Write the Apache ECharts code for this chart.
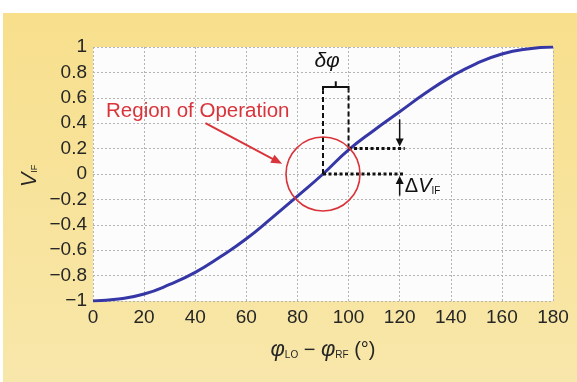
<!DOCTYPE html>
<html>
<head>
<meta charset="utf-8">
<script src="https://cdn.jsdelivr.net/npm/echarts@6/dist/echarts.min.js"></script>
<style>
html,body{margin:0;padding:0;background:#fff;}
#c{width:577px;height:382px;}
</style>
</head>
<body>
<div id="c"></div>
<script>
// ---- data ----
const phaseDeg = [0,10,20,30,40,50,60,70,80,90,100,110,120,130,140,150,160,170,180];
const vIF = [-1,-0.985,-0.945,-0.87,-0.775,-0.65,-0.51,-0.345,-0.175,0,0.19,0.345,0.49,0.635,0.765,0.87,0.945,0.985,1];
const xTicks = [0,20,40,60,80,100,120,140,160,180];
const yTicks = [-1,-0.8,-0.6,-0.4,-0.2,0,0.2,0.4,0.6,0.8,1];
// annotation anchors (data units)
const opPoint = [90, 0];          // centre of region of operation
const opPoint2 = [100, 0.2];      // second operating point
const bracketTop = 0.685;
const bracketEnd = 0.655;
const bracketTick = 0.73;
const dotEndX = 122;
const arrowX = 120;
const downArrowFrom = 0.43;
const upArrowFrom = -0.17;
const regionLabel = [41, 0.49];
const regionArrowFrom = [44, 0.40];
const regionArrowTo = [74, 0.08];
const deltaPhiLabel = [91.6, 0.89];
const deltaVLabel = [122, -0.1];

const FONT = '"Liberation Sans", Arial, Helvetica, sans-serif';
const fmt = v => { const r = Math.round(v*10)/10; if (r===0) return '0'; return (r<0?'\u2212':'') + Math.abs(r); };

const chart = echarts.init(document.getElementById('c'), null, {renderer:'canvas'});
chart.setOption({
  backgroundColor: '#ffffff',
  animation: false,
  grid: {left: 93, right: 24, top: 47, bottom: 81, show: true, backgroundColor: '#fcfcfd', borderWidth: 0},
  xAxis: {
    type: 'value', min: 0, max: 180, interval: 20,
    axisLine: {show: false}, axisTick: {show: false},
    axisLabel: {color: '#262626', fontFamily: FONT, fontSize: 19, margin: 7, formatter: fmt},
    splitLine: {show: true, lineStyle: {color: '#b4b4b4', type: [2,2], width: 1}}
  },
  yAxis: {
    type: 'value', min: -1, max: 1, interval: 0.2,
    axisLine: {show: false}, axisTick: {show: false},
    axisLabel: {color: '#262626', fontFamily: FONT, fontSize: 19, margin: 6, formatter: fmt},
    splitLine: {show: true, lineStyle: {color: '#b4b4b4', type: [2,2], width: 1}}
  },
  series: [{
    type: 'line', data: phaseDeg.map((p,i)=>[p, vIF[i]]), smooth: true, showSymbol: false,
    lineStyle: {color: '#3637a6', width: 3}, z: 5
  }]
});

function P(x,y){ return chart.convertToPixel({gridIndex:0}, [x,y]); }
function arrowHead(tip, from, len, half, color){
  const dx = tip[0]-from[0], dy = tip[1]-from[1];
  const L = Math.sqrt(dx*dx+dy*dy); const ux=dx/L, uy=dy/L;
  const bx = tip[0]-ux*len, by = tip[1]-uy*len;
  return {type:'polygon', z:20, shape:{points:[tip,[bx-uy*half, by+ux*half],[bx+uy*half, by-ux*half]]}, style:{fill:color}};
}

const g = [];
// outer yellow panel
g.push({type:'rect', z:-100, shape:{x:3, y:13, width:574, height:369},
  style:{fill: new echarts.graphic.LinearGradient(0,0,0,1,[{offset:0,color:'#f7df8c'},{offset:1,color:'#f8e7aa'}])}});

const c0 = P(opPoint[0], opPoint[1]);
const c1 = P(opPoint2[0], opPoint2[1]);
const bt = P(0, bracketTop)[1], be = P(0, bracketEnd)[1], btk = P(0, bracketTick)[1];
const dashStyle = {stroke:'#111', lineWidth:2, lineDash:[5,3], fill:null};
// dashed verticals
g.push({type:'line', z:20, shape:{x1:c0[0], y1:c0[1], x2:c0[0], y2:be}, style:dashStyle});
g.push({type:'line', z:20, shape:{x1:c1[0], y1:c1[1], x2:c1[0], y2:be}, style:dashStyle});
// bracket
g.push({type:'polyline', z:20, shape:{points:[[c0[0],be],[c0[0],bt],[c1[0],bt],[c1[0],be]]}, style:{stroke:'#111', lineWidth:2, fill:null}});
const mx = (c0[0]+c1[0])/2;
g.push({type:'line', z:20, shape:{x1:mx, y1:bt, x2:mx, y2:btk}, style:{stroke:'#111', lineWidth:2}});
// dotted horizontals
const xe = P(dotEndX, 0)[0];
const dotStyle = {stroke:'#111', lineWidth:3, lineDash:[3,2.5], fill:null};
g.push({type:'line', z:20, shape:{x1:c0[0], y1:c0[1], x2:xe, y2:c0[1]}, style:dotStyle});
g.push({type:'line', z:20, shape:{x1:c1[0], y1:c1[1], x2:xe, y2:c1[1]}, style:dotStyle});
// delta V arrows
const ax = P(arrowX,0)[0];
const dFrom = [ax, P(0,downArrowFrom)[1]], dTip = [ax, c1[1]-2];
g.push({type:'line', z:20, shape:{x1:dFrom[0], y1:dFrom[1], x2:dTip[0], y2:dTip[1]-6}, style:{stroke:'#111', lineWidth:1.5}});
g.push(arrowHead(dTip, dFrom, 8, 4, '#111'));
const uFrom = [ax, P(0,upArrowFrom)[1]], uTip = [ax, c0[1]+2];
g.push({type:'line', z:20, shape:{x1:uFrom[0], y1:uFrom[1], x2:uTip[0], y2:uTip[1]+6}, style:{stroke:'#111', lineWidth:1.5}});
g.push(arrowHead(uTip, uFrom, 8, 4, '#111'));
// region circle
g.push({type:'circle', z:21, shape:{cx:c0[0], cy:c0[1], r:37}, style:{stroke:'#d9343a', lineWidth:1.6, fill:null}});
// region label + arrow
const rl = P(regionLabel[0], regionLabel[1]);
g.push({type:'text', z:22, x:rl[0], y:rl[1], style:{text:'Region of Operation', fill:'#d9343a', font:'20.5px '+FONT, textAlign:'center', textVerticalAlign:'middle'}});
const ra = P(regionArrowFrom[0], regionArrowFrom[1]), rb = P(regionArrowTo[0], regionArrowTo[1]);
g.push({type:'line', z:22, shape:{x1:ra[0], y1:ra[1], x2:rb[0]-(rb[0]-ra[0])*0.1, y2:rb[1]-(rb[1]-ra[1])*0.1}, style:{stroke:'#d9343a', lineWidth:2}});
g.push(arrowHead(rb, ra, 11, 4.5, '#d9343a'));
// delta phi label
const dp = P(deltaPhiLabel[0], deltaPhiLabel[1]);
g.push({type:'text', z:22, x:dp[0], y:dp[1], style:{text:'\u03b4\u03c6', fill:'#111', font:'italic 21px '+FONT, textAlign:'center', textVerticalAlign:'middle'}});
// delta V label
const dv = P(deltaVLabel[0], deltaVLabel[1]);
g.push({type:'text', z:22, x:dv[0], y:dv[1], style:{
  rich:{d:{fontFamily:FONT, fontSize:20, fill:'#111'}, v:{fontFamily:FONT, fontSize:20, fontStyle:'italic', fill:'#111'}, s:{fontFamily:FONT, fontSize:10, fill:'#111', padding:[10,0,0,0]}},
  text:'{d|\u0394}{v|V}{s|IF}', textVerticalAlign:'middle'}});
// axis names
g.push({type:'text', z:22, x:323, y:350, style:{
  rich:{p:{fontFamily:FONT, fontSize:22, fontStyle:'italic', fill:'#262626'}, s:{fontFamily:FONT, fontSize:10, fill:'#262626', padding:[10,0,0,0]}, t:{fontFamily:FONT, fontSize:20, fill:'#262626'}},
  text:'{p|\u03c6}{s|LO}{t| \u2212 }{p|\u03c6}{s|RF}{t| (\u00b0)}', textAlign:'center', textVerticalAlign:'middle'}});
g.push({type:'text', z:22, x:30, y:176, rotation:Math.PI/2, style:{
  rich:{v:{fontFamily:FONT, fontSize:22, fontStyle:'italic', fill:'#262626'}, s:{fontFamily:FONT, fontSize:9, fill:'#262626', padding:[10,0,0,0]}},
  text:'{v|V}{s|IF}', textAlign:'center', textVerticalAlign:'middle'}});

chart.setOption({graphic: g});
</script>
</body>
</html>
